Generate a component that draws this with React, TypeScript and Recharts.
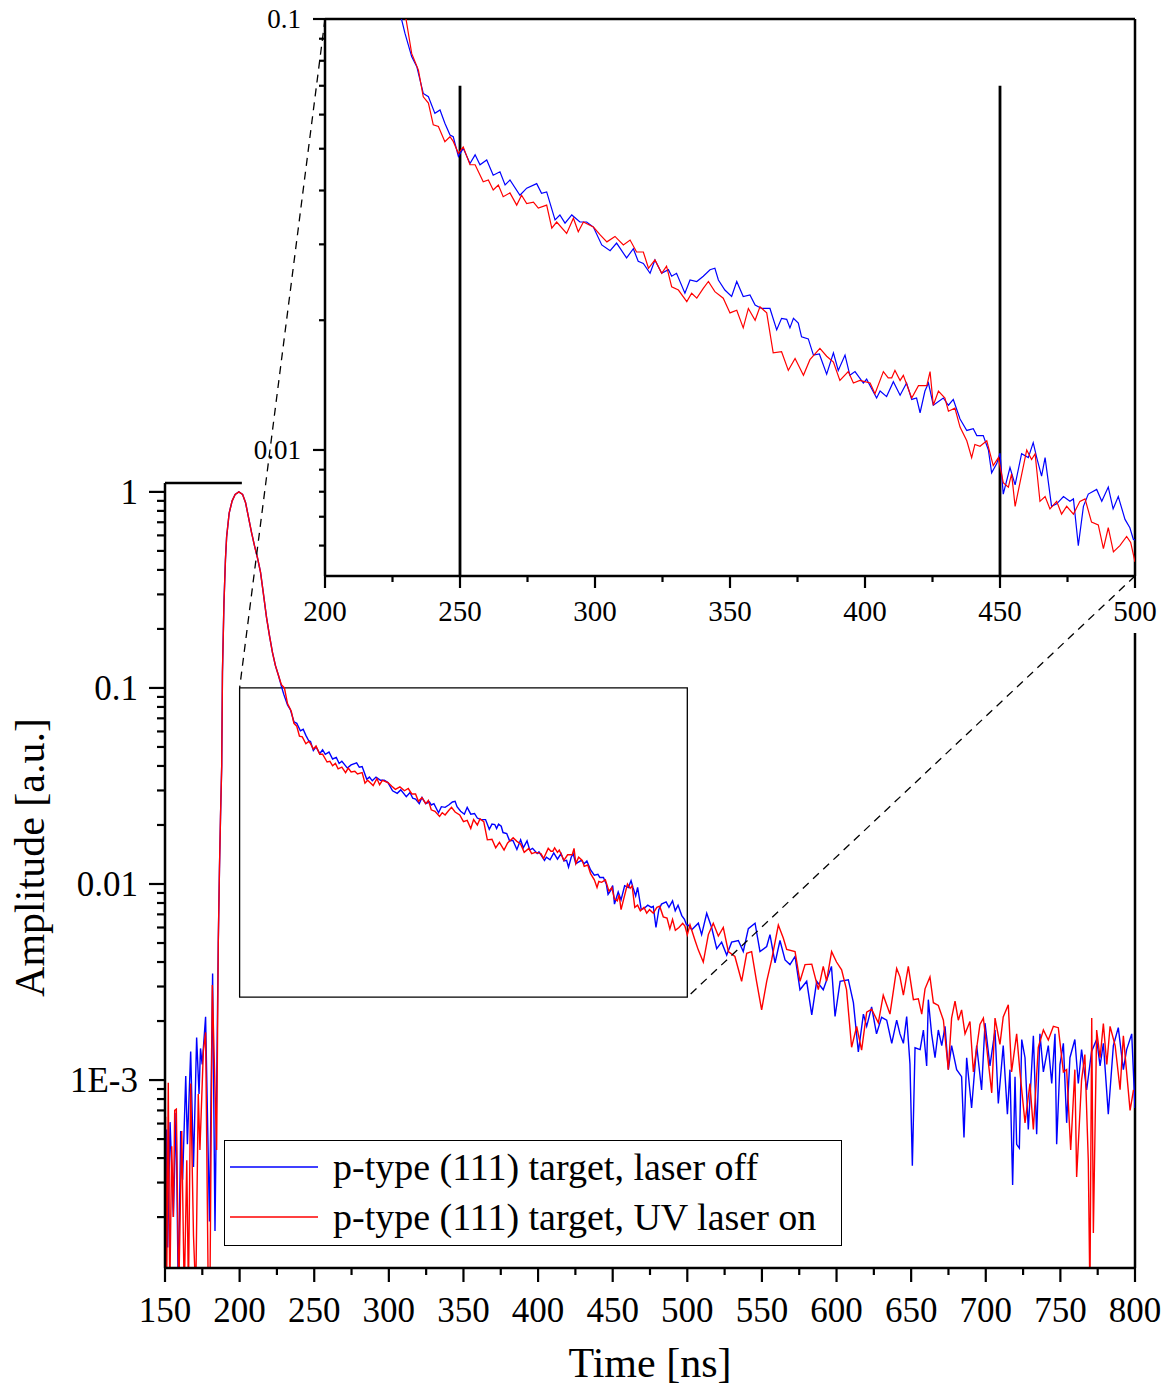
import React from "react";
import { LineChart, Line, XAxis, YAxis, ReferenceArea, ReferenceLine, Legend, Label } from "recharts";

type Pt = [number, number];

// time [ns], amplitude [a.u.]
const BLUE_PRE: Pt[] = [
  [150, 1.25e-4], [151.1, 5.6e-4], [151.8, 1.4e-4], [153.4, 6.1e-4], [155.6, 2.0e-4], [157.4, 6.8e-4],
  [158.9, 8e-5], [160.5, 5.5e-4], [161.8, 3.1e-4], [163.9, 1.05e-3], [165, 4.7e-4], [167.2, 1.4e-3],
  [169.1, 3.6e-4], [171.2, 1.65e-3], [172.8, 8.5e-4], [173.8, 1.45e-3], [174.9, 1.2e-3], [177.2, 2.1e-3],
  [179.8, 1.9e-4], [181.9, 3.5e-3], [183.5, 1.7e-4],
];

const RED_PRE: Pt[] = [
  [150, 1e-4], [150.4, 6.5e-4], [151.1, 8e-5], [152.2, 9.7e-4], [153.2, 8e-5], [154.5, 4.6e-4], [155.6, 2.0e-4],
  [156.5, 7.0e-4], [157.6, 7.1e-4], [159.2, 8e-5], [161.2, 5.5e-4], [162.9, 8e-5], [164.6, 3.9e-4],
  [165.7, 8e-5], [167.2, 9.6e-4], [169.1, 1.6e-4], [170.6, 8e-5], [172.3, 8.5e-4], [173.4, 4.4e-4],
  [175.7, 1.4e-3], [177.2, 1.75e-3], [179, 8e-5], [180.1, 8e-5], [181.7, 3.05e-3], [184.6, 4.4e-4],
];

// main pulse, both traces overlap here
const PULSE: Pt[] = [
  [185.7, 0.005], [186.5, 0.012], [187.2, 0.022], [188, 0.04], [188.5, 0.12], [189.5, 0.27], [190.5, 0.45],
  [191.3, 0.59], [193, 0.78], [195, 0.9], [197, 0.97], [199.5, 1.0], [202, 0.97], [204, 0.88], [206, 0.74],
  [208, 0.62], [210, 0.53], [212, 0.46], [214, 0.39], [216, 0.3], [218, 0.23], [220, 0.185], [222, 0.152],
  [224, 0.13], [226, 0.116],
];

const BLUE_DECAY: Pt[] = [
  [228.4, 0.0995], [229.6, 0.0927], [232.1, 0.0818], [234, 0.0775], [236.4, 0.0672], [238.3, 0.066],
  [240.7, 0.0604], [242.6, 0.0615], [244.4, 0.0573], [246.3, 0.0538], [247.5, 0.0533], [249.4, 0.048],
  [251.2, 0.0501], [253.7, 0.0462], [255.6, 0.0484], [257.4, 0.0459], [259.9, 0.0471], [262.3, 0.0434],
  [264.8, 0.0442], [266.7, 0.0412], [268.5, 0.0423], [272.2, 0.039], [274.7, 0.0405], [278.4, 0.0415],
  [280.2, 0.0394], [282.1, 0.0397], [285.2, 0.0342], [287, 0.0351], [288.9, 0.0336], [291.4, 0.0351],
  [294.4, 0.0338], [296.9, 0.0338], [299.4, 0.0329], [302.5, 0.0299], [305.6, 0.029], [308, 0.0302],
  [311.7, 0.0279], [314.2, 0.0293], [316, 0.0274], [317.9, 0.0271], [320.4, 0.0257], [322.2, 0.0276],
  [324.7, 0.0257], [327.2, 0.0262], [328.4, 0.0253], [330.2, 0.0257], [333.3, 0.0231], [335.2, 0.0248],
  [337.7, 0.0246], [340.1, 0.0253], [342.6, 0.0262], [344.4, 0.0264], [345.7, 0.0248], [348.1, 0.0235],
  [350.6, 0.0227], [352.5, 0.0246], [354.9, 0.0227], [357.4, 0.0229], [359.3, 0.0217], [361.7, 0.0213],
  [364.8, 0.0213], [367.3, 0.019], [369.1, 0.0202], [371, 0.0201], [372.2, 0.0192], [373.5, 0.0202],
  [375.3, 0.0197], [376.5, 0.0183], [379, 0.0181], [380.9, 0.0166], [383.1, 0.0167], [385.8, 0.015],
  [388.3, 0.0168], [390.1, 0.0153], [392.6, 0.0166], [394.4, 0.0149], [396.3, 0.0152], [399.4, 0.0143],
  [400.6, 0.0146], [404.3, 0.0132], [405.6, 0.0137], [408, 0.0133], [410.5, 0.0144], [413, 0.0134],
  [415.4, 0.0143], [417.3, 0.0131], [419.1, 0.0132], [420.4, 0.0122], [422.2, 0.0137], [423.5, 0.0143],
  [425.3, 0.0127], [429, 0.0132], [430.9, 0.0127], [432.7, 0.0131], [435.2, 0.0118], [437.7, 0.0111],
  [440.1, 0.0112], [441.4, 0.0108], [443.8, 0.0108], [445.7, 0.01], [446.9, 0.00885], [448.8, 0.0093],
  [450, 0.00983], [451.2, 0.0079], [453.7, 0.0091], [455.6, 0.0083], [458, 0.0098], [460.5, 0.0096],
  [462.3, 0.0104], [463.6, 0.0096], [465.4, 0.0087], [466.7, 0.0096], [469.1, 0.0074], [471, 0.0075],
  [473.5, 0.0078], [475.9, 0.0076], [477.2, 0.0077], [479, 0.006], [480.9, 0.0074], [482.7, 0.0079],
  [485.8, 0.0081], [487.7, 0.0076], [490.1, 0.0082], [491.9, 0.0073], [493.8, 0.0078], [496.3, 0.0069],
  [498.1, 0.0066], [499.4, 0.0062],
];

const RED_DECAY: Pt[] = [
  [228, 0.104], [230, 0.1], [232.1, 0.0832], [234.6, 0.0761], [236.4, 0.066], [238.3, 0.0638], [240.1, 0.0568],
  [242, 0.0563], [244.4, 0.0519], [246.3, 0.0533], [247.5, 0.052], [249.4, 0.0488], [251.2, 0.0505],
  [253.7, 0.0459], [255.6, 0.0459], [258.6, 0.0419], [260.5, 0.0423], [262.3, 0.0401], [264.2, 0.0412],
  [266, 0.0387], [268.5, 0.0395], [271, 0.037], [272.8, 0.039], [274.7, 0.0373], [277.2, 0.0376],
  [279, 0.0364], [282.1, 0.037], [284, 0.0327], [285.8, 0.0338], [289.5, 0.0318], [292, 0.0345],
  [293.8, 0.0321], [295.7, 0.0338], [299.4, 0.0329], [302, 0.0315], [304.4, 0.0304], [307.4, 0.0313],
  [310.5, 0.0299], [313, 0.0307], [315.4, 0.0288], [317.9, 0.0288], [319.8, 0.0264], [322.2, 0.0276],
  [324.7, 0.0257], [326.5, 0.0267], [328.4, 0.0239], [330.9, 0.0235], [334, 0.0221], [335.8, 0.0231],
  [337.7, 0.0225], [340.1, 0.0237], [342, 0.0246], [344.4, 0.0233], [347.5, 0.0225], [350, 0.0208],
  [352.5, 0.0211], [354.9, 0.0192], [356.8, 0.0213], [359.3, 0.02], [361.1, 0.0215], [363.6, 0.0208],
  [366, 0.0168], [369.1, 0.0169], [371.6, 0.0153], [374.1, 0.0163], [377.2, 0.0149], [379.6, 0.0162],
  [383.3, 0.0172], [385.8, 0.0165], [388.3, 0.016], [390.7, 0.0145], [393.8, 0.0152], [395.7, 0.0143],
  [398.1, 0.0145], [401.9, 0.0143], [403.7, 0.0135], [406.8, 0.0152], [408.6, 0.0147], [409.9, 0.0147],
  [411.1, 0.0153], [413, 0.0145], [414.2, 0.0149], [417.3, 0.0132], [419.8, 0.0141], [422.9, 0.0141],
  [424.1, 0.0152], [425.3, 0.0127], [427.2, 0.0137], [429.6, 0.0132], [430.9, 0.0123], [433.3, 0.0125],
  [435.2, 0.0113], [437.7, 0.0105], [439.5, 0.0096], [440.7, 0.0103], [442.6, 0.0102], [445.1, 0.0105],
  [447.5, 0.0092], [449.4, 0.0096], [451.2, 0.0084], [453.1, 0.0082], [454.3, 0.0088], [455.6, 0.0074],
  [457.4, 0.0084], [459.9, 0.01], [461.7, 0.0095], [463, 0.0098], [464.8, 0.0076], [466.7, 0.0078],
  [468.5, 0.0073], [471, 0.0076], [472.8, 0.0071], [474.7, 0.0074], [477.2, 0.0071], [479.6, 0.0076],
  [481.5, 0.0077], [483.9, 0.0068], [486.4, 0.0067], [488.3, 0.0059], [490.1, 0.0066], [492, 0.0058],
  [494.4, 0.006], [496.9, 0.0063], [498.4, 0.0061], [500, 0.0055],
];

const BLUE_TAIL: Pt[] = [
  [500.7, 0.00617], [503, 0.00584], [507.4, 0.00631], [509.6, 0.00552], [513, 0.00709], [516.3, 0.006],
  [519.7, 0.00468], [523, 0.00505], [526.4, 0.00434], [529.7, 0.00505], [534.2, 0.00515], [537.5, 0.00452],
  [540.9, 0.00592], [545.4, 0.00631], [548.7, 0.00452], [553.2, 0.0048], [555.4, 0.00552], [558.8, 0.00396],
  [562.1, 0.00515], [565.5, 0.0041], [568.8, 0.00388], [572.2, 0.00427], [575.5, 0.00289], [580, 0.00319],
  [583.4, 0.00215], [586.7, 0.00319], [591.1, 0.00289], [596.6, 0.0038], [599, 0.00211], [602.4, 0.00319],
  [607.9, 0.00325], [611.3, 0.00248], [614.6, 0.00139], [618, 0.00217], [620.2, 0.00188], [623.5, 0.00236],
  [626.8, 0.00172], [630.2, 0.00209], [633.6, 0.00202], [637, 0.00154], [640.3, 0.00202], [642.5, 0.00172],
  [644.8, 0.00154], [647, 0.00211], [649.2, 0.00121], [650.8, 0.000366], [652.6, 0.00146], [656, 0.00143],
  [658.2, 0.0018], [660.4, 0.00118], [661.5, 0.00257], [663.7, 0.00172], [666, 0.0013], [668.2, 0.0018],
  [670.5, 0.0015], [672.7, 0.00188], [674.9, 0.00113], [677.1, 0.0015], [680.5, 0.00113], [683.8, 0.00104],
  [685.4, 0.00051], [687.2, 0.0013], [690.5, 0.00072], [693.9, 0.0015], [697.2, 0.00089], [699.5, 0.00195],
  [702.8, 0.00118], [706.2, 0.0018], [708.4, 0.00076], [711.7, 0.0015], [714.5, 0.00067], [716.2, 0.00113],
  [718, 0.000292], [719.6, 0.00104], [720.7, 0.00047], [722.5, 0.00045], [724.1, 0.00161], [726.3, 0.0013],
  [728.5, 0.00056], [731.9, 0.00168], [734.1, 0.00053], [736.3, 0.00172], [738.6, 0.0011], [741.9, 0.0015],
  [744.2, 0.00096], [746.4, 0.00172], [747.5, 0.00047], [749.7, 0.0012], [752, 0.00154], [754.2, 0.000605],
  [756.4, 0.0013], [759.7, 0.00161], [762, 0.00096], [764.2, 0.00143], [767.6, 0.00089], [770.9, 0.0014],
  [774.3, 0.00161], [776.6, 0.00118], [778.8, 0.00154], [782.1, 0.00067], [785.5, 0.0015], [788.8, 0.00185],
  [792.2, 0.00113], [794.4, 0.00143], [797.8, 0.00172], [800, 0.00072],
];

const RED_TAIL: Pt[] = [
  [501.8, 0.0062], [505.2, 0.00515], [507.4, 0.0046], [510.7, 0.004], [514.1, 0.00552], [517.4, 0.00631],
  [520.8, 0.00543], [524.1, 0.006], [527.5, 0.00452], [531.9, 0.00427], [536.4, 0.00319], [539.8, 0.00443],
  [543.1, 0.00452], [546.4, 0.00319], [549.8, 0.00228], [553.2, 0.00319], [556.5, 0.0041], [561, 0.00617],
  [564.3, 0.0053], [566.6, 0.00464], [572.2, 0.00452], [575.5, 0.00319], [578.9, 0.00388], [583.4, 0.0039],
  [587.8, 0.00289], [591.1, 0.0038], [593.3, 0.0032], [596.7, 0.00452], [600, 0.004], [603.4, 0.00365],
  [606.7, 0.00289], [610.1, 0.00147], [613.5, 0.00188], [616.8, 0.00142], [620.2, 0.00222], [623.5, 0.0023],
  [628, 0.00196], [631.3, 0.00271], [635.8, 0.00217], [640.3, 0.00371], [642.5, 0.00336], [644.8, 0.00271],
  [648.1, 0.0038], [651.5, 0.00257], [654.8, 0.0026], [657.1, 0.00217], [659.3, 0.00292], [662.6, 0.00336],
  [664.9, 0.00248], [668.2, 0.0024], [671.6, 0.00202], [674.9, 0.00113], [677.1, 0.00207], [679.4, 0.00253],
  [681.6, 0.00202], [683.8, 0.00228], [686.1, 0.00172], [689.4, 0.00199], [691.7, 0.0011], [696.1, 0.00192],
  [698.4, 0.00207], [700.6, 0.00147], [704, 0.00086], [706.2, 0.00207], [709.5, 0.00152], [711.7, 0.0021],
  [715.1, 0.00242], [717.3, 0.0011], [720.7, 0.00172], [722.9, 0.0011], [726.3, 0.000605], [729.6, 0.00096],
  [731.9, 0.00056], [735.2, 0.00147], [738.6, 0.0018], [741.9, 0.0016], [745.3, 0.00188], [748.6, 0.00185],
  [752, 0.0011], [754.2, 0.00113], [756.9, 0.00044], [759.7, 0.00113], [760.9, 0.00032], [764.2, 0.001],
  [766.4, 0.00135], [768.7, 0.00039], [769.8, 0.00008], [771, 0.00207], [772.1, 0.000166], [774.3, 0.0018],
  [776.6, 0.0013], [778.8, 0.00194], [781.1, 0.0012], [783.3, 0.00188], [786.7, 0.0015], [790, 0.000892],
  [792.2, 0.00168], [796.7, 0.0007], [799, 0.00089],
];

const SERIES_NAMES = ["p-type (111) target, laser off", "p-type (111) target, UV laser on"];
const SERIES_COLORS = ["#0000ff", "#ff0000"];

const MAIN_X_TICKS = [150, 175, 200, 225, 250, 275, 300, 325, 350, 375, 400, 425, 450, 475, 500, 525, 550, 575, 600, 625, 650, 675, 700, 725, 750, 775, 800];
const MAIN_Y_DECADES = [1e-4, 1e-3, 1e-2, 1e-1, 1];
const MAIN_Y_LABELS = ["1E-4", "1E-3", "0.01", "0.1", "1"];
const INSET_X_TICKS = [200, 225, 250, 275, 300, 325, 350, 375, 400, 425, 450, 475, 500];
const INSET_Y_DECADES = [1e-3, 1e-2, 1e-1];
const INSET_Y_LABELS = ["1E-3", "0.01", "0.1"];
const MARKERS = [250, 450];

// layout
const W = 1169;
const H = 1389;
const MAIN = { left: 165, right: 1135, top: 483, bottom: 1268 };
const MAIN_XD: [number, number] = [150, 800];
const MAIN_YD: [number, number] = [1.1e-4, 1.11];
const INSET = { left: 325, right: 1135, top: 19, bottom: 576 };
const INSET_XD: [number, number] = [200, 500];
const INSET_YD: [number, number] = [0.0051, 0.1];
const ZOOM_BOX = { x1: 200, x2: 500, y1: 0.00265, y2: 0.1 };
const INSET_BOX = { left: 232, width: W - 232, height: 1010 };

const FONT = '"Liberation Serif", "Times New Roman", serif';

const toRows = (pts: Pt[]) => pts.map(([t, a]) => ({ t, a }));
const blueData = toRows([...BLUE_PRE, ...PULSE, ...BLUE_DECAY, ...BLUE_TAIL]);
const redData = toRows([...RED_PRE, ...PULSE, ...RED_DECAY, ...RED_TAIL]);

const logTicks = (decades: number[], lo: number, hi: number) => {
  const out: number[] = [];
  decades.forEach((d) => {
    for (let m = 1; m <= 9; m++) {
      const v = parseFloat((m * d).toPrecision(6));
      if (v >= lo && v <= hi) out.push(v);
    }
  });
  return out;
};
const MAIN_Y_TICKS = logTicks(MAIN_Y_DECADES, MAIN_YD[0], MAIN_YD[1]);
const INSET_Y_TICKS = logTicks(INSET_Y_DECADES, INSET_YD[0], INSET_YD[1]);

const isDecade = (v: number) => Math.abs(Math.log10(v) - Math.round(Math.log10(v))) < 1e-6;
const decadeLabel = (decades: number[], labels: string[]) => (v: number) => {
  const i = decades.findIndex((d) => Math.abs(Math.log10(d) - Math.log10(v)) < 1e-6);
  return i >= 0 ? labels[i] : "";
};

// map between the two plots (used for the dashed connectors)
const mainToPage = (t: number, v: number) => {
  const px = MAIN.left + ((t - MAIN_XD[0]) / (MAIN_XD[1] - MAIN_XD[0])) * (MAIN.right - MAIN.left);
  const lr = Math.log10(MAIN_YD[1]) - Math.log10(MAIN_YD[0]);
  const py = MAIN.top + ((Math.log10(MAIN_YD[1]) - Math.log10(v)) / lr) * (MAIN.bottom - MAIN.top);
  return { px, py };
};
const pageToInset = (px: number, py: number) => {
  const t = INSET_XD[0] + ((px - INSET.left) / (INSET.right - INSET.left)) * (INSET_XD[1] - INSET_XD[0]);
  const lr = Math.log10(INSET_YD[1]) - Math.log10(INSET_YD[0]);
  const lv = Math.log10(INSET_YD[1]) - ((py - INSET.top) / (INSET.bottom - INSET.top)) * lr;
  return { x: t, y: Math.pow(10, lv) };
};
const cornerA = mainToPage(ZOOM_BOX.x1, ZOOM_BOX.y2);
const cornerB = mainToPage(ZOOM_BOX.x2, ZOOM_BOX.y1);
const CONNECTORS = [
  [{ x: INSET_XD[0], y: INSET_YD[1] }, pageToInset(cornerA.px, cornerA.py)],
  [{ x: INSET_XD[1], y: INSET_YD[0] }, pageToInset(cornerB.px, cornerB.py)],
];

const LeftTick = (p: any) => {
  const { x, y, payload, majorLen, minorLen, gap, fontSize, isMajor, label } = p;
  const big = isMajor(payload.value);
  const len = big ? majorLen : minorLen;
  return (
    <g>
      <line x1={x - len} x2={x} y1={y} y2={y} stroke="#000" strokeWidth={2.2} />
      {big && (
        <text x={x - len - gap} y={y + fontSize * 0.34} textAnchor="end" fontSize={fontSize} fontFamily={FONT} fill="#000">
          {label(payload.value)}
        </text>
      )}
    </g>
  );
};

const BottomTick = (p: any) => {
  const { x, y, payload, majorLen, minorLen, baseline, fontSize, isMajor } = p;
  const big = isMajor(payload.value);
  const len = big ? majorLen : minorLen;
  return (
    <g>
      <line x1={x} x2={x} y1={y} y2={y + len} stroke="#000" strokeWidth={2.2} />
      {big && (
        <text x={x} y={y + baseline} textAnchor="middle" fontSize={fontSize} fontFamily={FONT} fill="#000">
          {payload.value}
        </text>
      )}
    </g>
  );
};

const LegendBox = ({ payload }: any) => {
  const items = [...(payload || [])].sort(
    (a: any, b: any) => SERIES_NAMES.indexOf(a.value) - SERIES_NAMES.indexOf(b.value)
  );
  return (
    <div
      style={{
        width: 618,
        height: 106,
        boxSizing: "border-box",
        border: "1.3px solid #000",
        background: "#fff",
        fontFamily: FONT,
        fontSize: 38,
        position: "relative",
      }}
    >
      {items.map((e: any, i: number) => (
        <div key={i} style={{ position: "absolute", left: 0, top: 3 + i * 50, height: 46, display: "flex", alignItems: "center" }}>
          <svg width={100} height={10} style={{ marginLeft: 5 }}>
            <line x1={0} x2={88} y1={5} y2={5} stroke={e.color} strokeWidth={1.5} />
          </svg>
          <span style={{ marginLeft: 3, whiteSpace: "nowrap", color: "#000" }}>{e.value}</span>
        </div>
      ))}
    </div>
  );
};

const axisLine = { stroke: "#000", strokeWidth: 2.5 };

export default function App() {
  const mainMajorX = (v: number) => (v - MAIN_XD[0]) % 50 === 0;
  const insetMajorX = (v: number) => (v - INSET_XD[0]) % 50 === 0;

  return (
    <div style={{ position: "absolute", left: 0, top: 0, width: W, height: H, background: "#fff", overflow: "hidden" }}>
      <LineChart width={W} height={H} margin={{ top: MAIN.top, right: W - MAIN.right, left: 0, bottom: 0 }}>
        <XAxis
          dataKey="t"
          type="number"
          domain={MAIN_XD}
          allowDataOverflow
          ticks={MAIN_X_TICKS}
          interval={0}
          height={H - MAIN.bottom}
          tickSize={0}
          tickMargin={0}
          tickLine={false}
          axisLine={axisLine}
          tick={(p: any) => (
            <BottomTick {...p} majorLen={14} minorLen={7} baseline={54} fontSize={35} isMajor={mainMajorX} />
          )}
        >
          <Label
            content={({ viewBox }: any) => (
              <text x={viewBox.x + viewBox.width / 2} y={1377} textAnchor="middle" fontSize={42} fontFamily={FONT} fill="#000">
                Time [ns]
              </text>
            )}
          />
        </XAxis>
        <YAxis
          dataKey="a"
          type="number"
          scale="log"
          domain={MAIN_YD}
          allowDataOverflow
          ticks={MAIN_Y_TICKS}
          interval={0}
          width={MAIN.left}
          tickSize={0}
          tickMargin={0}
          tickLine={false}
          axisLine={axisLine}
          tick={(p: any) => (
            <LeftTick
              {...p}
              majorLen={16}
              minorLen={8}
              gap={11}
              fontSize={35}
              isMajor={isDecade}
              label={decadeLabel(MAIN_Y_DECADES, MAIN_Y_LABELS)}
            />
          )}
        >
          <Label
            content={({ viewBox }: any) => {
              const cx = 44;
              const cy = viewBox.y + viewBox.height / 2 - 18;
              return (
                <text x={cx} y={cy} transform={`rotate(-90 ${cx} ${cy})`} textAnchor="middle" fontSize={42} fontFamily={FONT} fill="#000">
                  Amplitude [a.u.]
                </text>
              );
            }}
          />
        </YAxis>
        <ReferenceLine x={MAIN_XD[1]} stroke="#000" strokeWidth={2.5} />
        <ReferenceLine
          segment={[{ x: MAIN_XD[0], y: MAIN_YD[1] }, { x: 201.5, y: MAIN_YD[1] }]}
          stroke="#000"
          strokeWidth={2.5}
        />
        <ReferenceArea x1={ZOOM_BOX.x1} x2={ZOOM_BOX.x2} y1={ZOOM_BOX.y1} y2={ZOOM_BOX.y2} fill="none" stroke="#000" strokeWidth={1.3} />
        <Line data={blueData} dataKey="a" name={SERIES_NAMES[0]} stroke={SERIES_COLORS[0]} strokeWidth={1.4} dot={false} isAnimationActive={false} type="linear" />
        <Line data={redData} dataKey="a" name={SERIES_NAMES[1]} stroke={SERIES_COLORS[1]} strokeWidth={1.4} dot={false} isAnimationActive={false} type="linear" />
        <Legend
          layout="vertical"
          align="center"
          verticalAlign="middle"
          wrapperStyle={{ position: "absolute", left: 224, top: 1140, width: 618, height: 106 }}
          content={(props: any) => <LegendBox payload={props.payload} />}
        />
      </LineChart>

      {/* inset */}
      <div style={{ position: "absolute", left: INSET_BOX.left, top: 0, width: INSET_BOX.width, height: INSET_BOX.height, pointerEvents: "none" }}>
        <div style={{ position: "absolute", left: INSET.left - INSET_BOX.left, top: 0, width: W - INSET.left, height: 633, background: "#fff" }} />
        <div style={{ position: "absolute", left: 0, top: 0 }}>
          <LineChart width={INSET_BOX.width} height={INSET_BOX.height} margin={{ top: INSET.top, right: W - INSET.right, left: 0, bottom: INSET_BOX.height - INSET.bottom - 50 }}>
            <XAxis
              dataKey="t"
              type="number"
              domain={INSET_XD}
              allowDataOverflow
              ticks={INSET_X_TICKS}
              interval={0}
              height={50}
              tickSize={0}
              tickMargin={0}
              tickLine={false}
              axisLine={axisLine}
              tick={(p: any) => (
                <BottomTick {...p} majorLen={12} minorLen={6} baseline={45} fontSize={29} isMajor={insetMajorX} />
              )}
            />
            <YAxis
              dataKey="a"
              type="number"
              scale="log"
              domain={INSET_YD}
              allowDataOverflow
              ticks={INSET_Y_TICKS}
              interval={0}
              width={INSET.left - INSET_BOX.left}
              tickSize={0}
              tickMargin={0}
              tickLine={false}
              axisLine={axisLine}
              tick={(p: any) => (
                <LeftTick
                  {...p}
                  majorLen={12}
                  minorLen={6}
                  gap={12}
                  fontSize={27}
                  isMajor={isDecade}
                  label={decadeLabel(INSET_Y_DECADES, INSET_Y_LABELS)}
                />
              )}
            />
            <ReferenceLine y={INSET_YD[1]} stroke="#000" strokeWidth={2.5} />
            <ReferenceLine x={INSET_XD[1]} stroke="#000" strokeWidth={2.5} />
            {MARKERS.map((m) => (
              <ReferenceLine key={m} segment={[{ x: m, y: INSET_YD[0] }, { x: m, y: 0.07 }]} stroke="#000" strokeWidth={2.8} />
            ))}
            <Line data={blueData} dataKey="a" stroke={SERIES_COLORS[0]} strokeWidth={1.2} dot={false} isAnimationActive={false} type="linear" />
            <Line data={redData} dataKey="a" stroke={SERIES_COLORS[1]} strokeWidth={1.2} dot={false} isAnimationActive={false} type="linear" />
            {CONNECTORS.map((seg, i) => (
              <ReferenceLine key={i} segment={seg} ifOverflow="visible" stroke="#000" strokeWidth={1.3} strokeDasharray="8 6" />
            ))}
          </LineChart>
        </div>
      </div>
    </div>
  );
}
